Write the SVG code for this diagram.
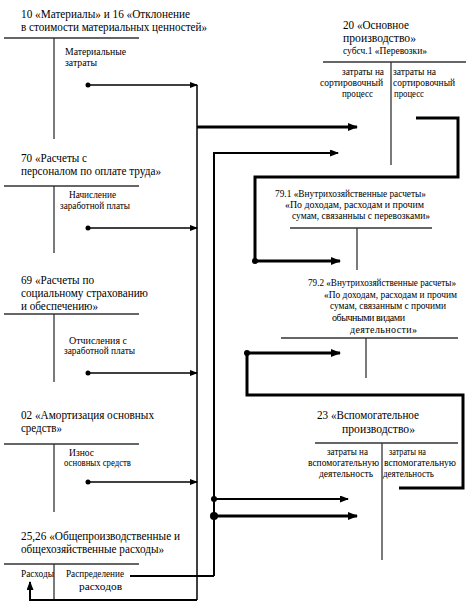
<svg xmlns="http://www.w3.org/2000/svg" width="471" height="607" viewBox="0 0 471 607">
<style>
text{font-family:'Liberation Serif','DejaVu Serif',serif;fill:#000}
.t{font-size:12px}
.u{font-size:11.5px}
.s{font-size:10px}
.m{font-size:11px}
.tl{stroke:#666;stroke-width:2;fill:none}
.tv{stroke:#333;stroke-width:1.3;fill:none}
.a1{stroke:#000;stroke-width:1.5;fill:none;marker-end:url(#ah1)}
.a2{stroke:#000;stroke-width:2;fill:none;marker-end:url(#ah2)}
.a3{stroke:#000;stroke-width:3;fill:none;marker-end:url(#ah3)}
.ln{stroke:#000;stroke-width:1.5;fill:none}
.lt{stroke:#000;stroke-width:3;fill:none}
.lm{stroke:#000;stroke-width:2;fill:none}
</style>
<defs>
<marker id="ah1" markerWidth="8" markerHeight="6" refX="7" refY="3" orient="auto" markerUnits="userSpaceOnUse"><path d="M0,0 L8,3 L0,6 Z" fill="#000"/></marker>
<marker id="ah2" markerWidth="9" markerHeight="7" refX="8" refY="3.5" orient="auto" markerUnits="userSpaceOnUse"><path d="M0,0 L9,3.5 L0,7 Z" fill="#000"/></marker>
<marker id="ah3" markerWidth="10" markerHeight="8" refX="9" refY="4" orient="auto" markerUnits="userSpaceOnUse"><path d="M0,0 L10,4 L0,8 Z" fill="#000"/></marker>
</defs>
<g font-family="Liberation Serif, DejaVu Serif, serif">
<g id="acc10">
<text class="t" x="21" y="18" textLength="169" lengthAdjust="spacingAndGlyphs">10 «Материалы» и 16 «Отклонение</text>
<text class="t" x="21" y="31" textLength="186" lengthAdjust="spacingAndGlyphs">в стоимости материальных ценностей»</text>
<line class="tl" x1="4" y1="38" x2="139" y2="38"/>
<line class="tv" x1="54" y1="38" x2="54" y2="139"/>
<text class="s" x="65" y="55" textLength="61" lengthAdjust="spacingAndGlyphs">Материальные</text>
<text class="s" x="65" y="66" textLength="32" lengthAdjust="spacingAndGlyphs">затраты</text>
</g>

<g id="acc70">
<text class="t" x="21" y="162" textLength="66" lengthAdjust="spacingAndGlyphs">70 «Расчеты с</text>
<text class="t" x="21" y="175" textLength="140" lengthAdjust="spacingAndGlyphs">персоналом по оплате труда»</text>
<line class="tl" x1="4" y1="186" x2="139" y2="186"/>
<line class="tv" x1="54" y1="186" x2="54" y2="253"/>
<text class="s" x="69" y="198" textLength="47" lengthAdjust="spacingAndGlyphs">Начисление</text>
<text class="s" x="60" y="209" textLength="70" lengthAdjust="spacingAndGlyphs">заработной платы</text>
</g>

<g id="acc69">
<text class="u" x="21" y="284" textLength="73" lengthAdjust="spacingAndGlyphs">69  «Расчеты по</text>
<text class="u" x="21" y="297" textLength="127" lengthAdjust="spacingAndGlyphs">социальному страхованию</text>
<text class="u" x="21" y="310" textLength="77" lengthAdjust="spacingAndGlyphs">и обеспечению»</text>
<line class="tl" x1="4" y1="314" x2="139" y2="314"/>
<line class="tv" x1="54" y1="314" x2="54" y2="382"/>
<text class="s" x="69" y="344" textLength="58" lengthAdjust="spacingAndGlyphs">Отчисления с</text>
<text class="s" x="64" y="354" textLength="71" lengthAdjust="spacingAndGlyphs">заработной платы</text>
</g>

<g id="acc02">
<text class="t" x="21" y="419" textLength="133" lengthAdjust="spacingAndGlyphs">02 «Амортизация основных</text>
<text class="t" x="21" y="432" textLength="41" lengthAdjust="spacingAndGlyphs">средств»</text>
<line class="tl" x1="4" y1="444" x2="139" y2="444"/>
<line class="tv" x1="54" y1="444" x2="54" y2="512"/>
<text class="s" x="69" y="456" textLength="25" lengthAdjust="spacingAndGlyphs">Износ</text>
<text class="s" x="64" y="466" textLength="67" lengthAdjust="spacingAndGlyphs">основных средств</text>
</g>

<g id="acc2526">
<text class="t" x="21" y="540" textLength="159" lengthAdjust="spacingAndGlyphs">25,26 «Общепроизводственные и</text>
<text class="t" x="21" y="553" textLength="143" lengthAdjust="spacingAndGlyphs">общехозяйственные расходы»</text>
<line class="tl" x1="4" y1="564" x2="139" y2="564"/>
<line class="tv" x1="54" y1="564" x2="54" y2="599"/>
<text class="s" x="21" y="577" textLength="33" lengthAdjust="spacingAndGlyphs">Расходы</text>
<text class="s" x="66" y="577" textLength="58" lengthAdjust="spacingAndGlyphs">Распределение</text>
<text class="m" x="79" y="590" textLength="43" lengthAdjust="spacingAndGlyphs">расходов</text>
</g>

<g id="acc20">
<text class="u" x="343" y="29" textLength="66" lengthAdjust="spacingAndGlyphs">20 «Основное</text>
<text class="u" x="343" y="42" textLength="73" lengthAdjust="spacingAndGlyphs">производство»</text>
<text class="s" x="343" y="54" textLength="84" lengthAdjust="spacingAndGlyphs">субсч.1 «Перевозки»</text>
<line class="tl" x1="323" y1="62" x2="466" y2="62"/>
<line class="tv" x1="391" y1="62" x2="391" y2="165"/>
<text class="s" x="342" y="75" textLength="42" lengthAdjust="spacingAndGlyphs">затраты на</text>
<text class="s" x="320" y="86" textLength="63" lengthAdjust="spacingAndGlyphs">сортировочный</text>
<text class="s" x="342" y="97" textLength="31" lengthAdjust="spacingAndGlyphs">процесс</text>
<text class="s" x="393" y="75" textLength="43" lengthAdjust="spacingAndGlyphs">затраты на</text>
<text class="s" x="393" y="86" textLength="62" lengthAdjust="spacingAndGlyphs">сортировочный</text>
<text class="s" x="394" y="97" textLength="30" lengthAdjust="spacingAndGlyphs">процесс</text>
</g>

<g id="acc791">
<text class="s" x="275" y="197" textLength="151" lengthAdjust="spacingAndGlyphs">79.1 «Внутрихозяйственные расчеты»</text>
<text class="s" x="285" y="208" textLength="139" lengthAdjust="spacingAndGlyphs">«По доходам, расходам и прочим</text>
<text class="s" x="292" y="219" textLength="138" lengthAdjust="spacingAndGlyphs">сумам, связанныы с перевозками»</text>
<line class="tl" x1="290" y1="228" x2="432" y2="228"/>
<line class="tv" x1="357" y1="228" x2="357" y2="270"/>
</g>

<g id="acc792">
<text class="s" x="308" y="286" textLength="148" lengthAdjust="spacingAndGlyphs">79.2 «Внутрихозяйственные расчеты»</text>
<text class="s" x="324" y="298" textLength="133" lengthAdjust="spacingAndGlyphs">«По доходам, расходам и прочим</text>
<text class="s" x="330" y="309" textLength="116" lengthAdjust="spacingAndGlyphs">сумам, связанным с прочими</text>
<text class="s" x="332" y="321" textLength="73" lengthAdjust="spacing">обычными видами</text>
<text class="s" x="350" y="333" textLength="67" lengthAdjust="spacing">деятельности»</text>
<line class="tl" x1="281" y1="338" x2="458" y2="338"/>
<line class="tv" x1="366" y1="338" x2="366" y2="378"/>
</g>

<g id="acc23">
<text class="t" x="317" y="419" textLength="102" lengthAdjust="spacingAndGlyphs">23 «Вспомогательное</text>
<text class="t" x="342" y="433" textLength="73" lengthAdjust="spacingAndGlyphs">производство»</text>
<line class="tl" x1="315" y1="443" x2="458" y2="443"/>
<line class="tv" x1="382" y1="443" x2="382" y2="560"/>
<text class="s" x="327" y="455" textLength="41" lengthAdjust="spacingAndGlyphs">затраты на</text>
<text class="s" x="308" y="466" textLength="71" lengthAdjust="spacingAndGlyphs">вспомогательную</text>
<text class="s" x="319" y="477" textLength="54" lengthAdjust="spacingAndGlyphs">деятельность</text>
<text class="s" x="389" y="455" textLength="37" lengthAdjust="spacingAndGlyphs">затраты на</text>
<text class="s" x="384" y="466" textLength="72" lengthAdjust="spacingAndGlyphs">вспомогательную</text>
<text class="s" x="383" y="477" textLength="51" lengthAdjust="spacingAndGlyphs">деятельность</text>
</g>
</g>
<g id="connectors">
<line class="ln" x1="197" y1="85" x2="197" y2="600"/>
<line class="a1" x1="88" y1="85" x2="197" y2="85"/>
<circle cx="88" cy="85" r="2.5"/>
<line class="a1" x1="88" y1="228" x2="197" y2="228"/>
<circle cx="88" cy="228" r="2.5"/>
<line class="a1" x1="88" y1="373" x2="197" y2="373"/>
<circle cx="88" cy="373" r="2.5"/>
<line class="a1" x1="88" y1="482" x2="197" y2="482"/>
<circle cx="88" cy="482" r="2.5"/>
<line class="a3" x1="197" y1="127" x2="357" y2="127"/>
<polyline class="a2" points="214,576 214,153 338,153"/>
<polyline class="lm" points="130,576 214,576"/>
<polyline class="a2" points="197,600 30,600 30,582"/>
<line class="a2" x1="214" y1="499" x2="348" y2="499"/>
<circle cx="214" cy="499" r="3"/>
<line class="a3" x1="214" y1="516" x2="357" y2="516"/>
<circle cx="214" cy="516" r="4"/>
<polyline class="lt" points="416,118 458,118 458,177 255,177 255,261"/>
<line class="a3" x1="255" y1="261" x2="340" y2="261"/>
<circle cx="255" cy="261" r="3"/>
<polyline class="lt" points="247,353 247,395 463,395 463,488 399,488"/>
<line class="a3" x1="247" y1="353" x2="340" y2="353"/>
<circle cx="247" cy="353" r="3"/>
</g>
</svg>
